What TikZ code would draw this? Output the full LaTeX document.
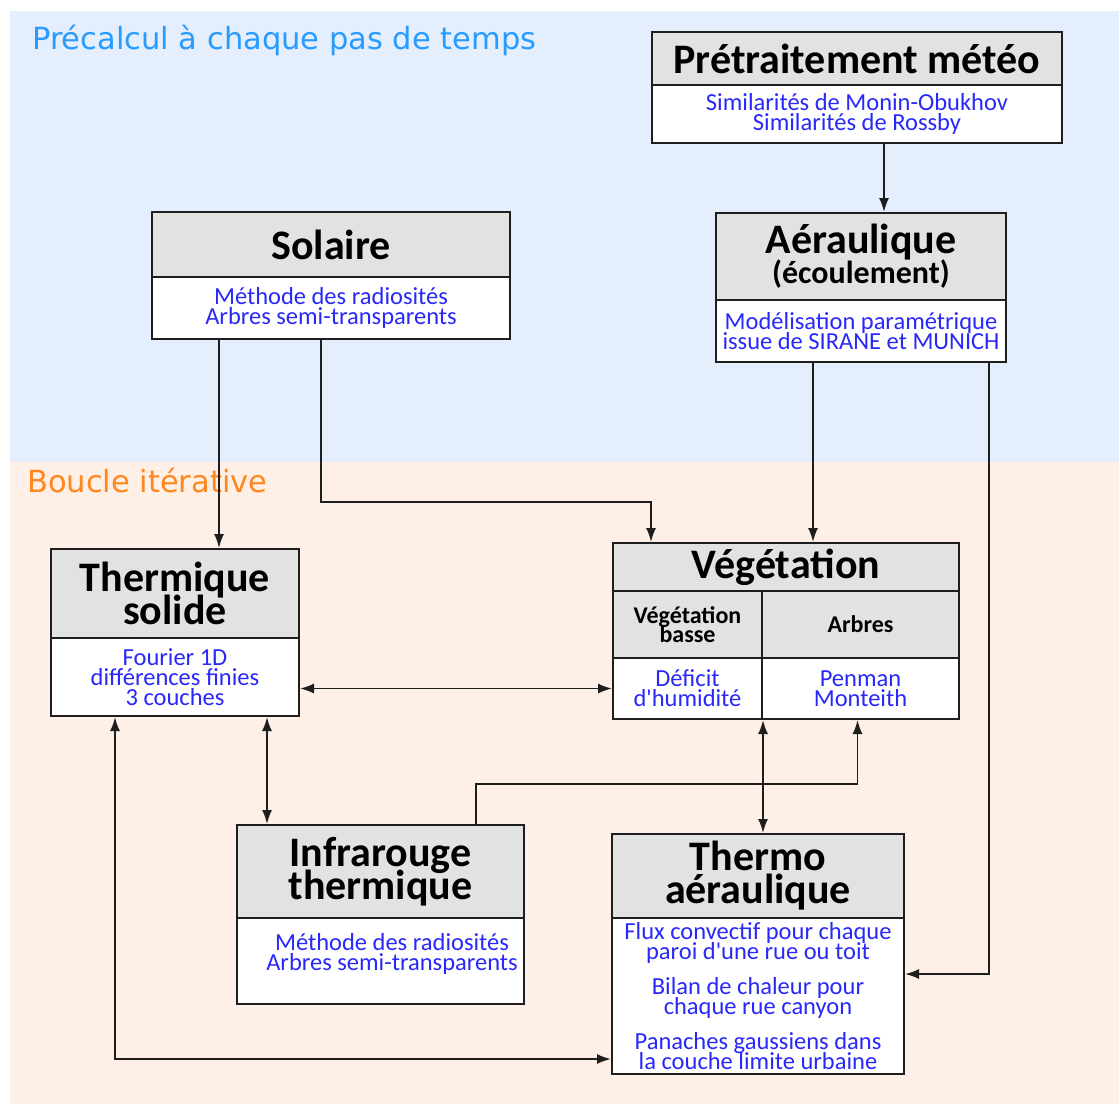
\documentclass[tikz,border=0pt]{standalone}
\usepackage{fontspec}
\usetikzlibrary{arrows.meta,calc}
\newfontfamily\calf{Carlito}
\newfontfamily\dejaf{DejaVu Sans}
\definecolor{bgblue}{RGB}{229,238,253}
\definecolor{bgorange}{RGB}{254,240,230}
\definecolor{hdrgray}{RGB}{226,226,226}
\definecolor{txtblue}{RGB}{40,40,250}
\definecolor{lblblue}{RGB}{40,155,255}
\definecolor{lblorange}{RGB}{255,135,30}
\definecolor{edgec}{RGB}{30,30,30}
\newcommand\tightlines{\lineskiplimit=-100pt\lineskip=0pt\relax}
\begin{document}
\begin{tikzpicture}[x=1pt,y=-1pt,
 box/.style={draw=edgec,line width=2pt,inner sep=0pt,anchor=north west,align=center},
 hdr/.style={box,fill=hdrgray,font=\calf\bfseries\fontsize{42}{33}\selectfont\tightlines},
 subhdr/.style={box,fill=hdrgray,font=\calf\bfseries\fontsize{24}{19.5}\selectfont\tightlines},
 bdy/.style={box,fill=white,text=txtblue,font=\calf\fontsize{24.5}{20}\selectfont\tightlines},
 btxt/.style={inner sep=0pt,align=center,text=txtblue,font=\calf\fontsize{24.5}{20}\selectfont\tightlines},
 arr/.style={line width=1.8pt,draw=edgec,-{Latex[length=14pt,width=10pt]}},
 darr/.style={line width=1.8pt,draw=edgec,{Latex[length=14pt,width=10pt]}-{Latex[length=14pt,width=10pt]}},
 region/.style={anchor=base west,inner sep=0pt,font=\dejaf\fontsize{30.5}{30.5}\selectfont}
]
\useasboundingbox (0,0) rectangle (1119,1104);
\fill[bgblue] (10,11) rectangle (1119,462);
\fill[bgorange] (10,462) rectangle (1119,1104);

\node[region,text=lblblue] (lpre) at (32,49) {Précalcul à chaque pas de temps};
\node[region,text=lblorange] (lbou) at (27,492) {Boucle itérative};

% Pretraitement meteo
\node[hdr,minimum width=410pt,minimum height=53pt] (pmh) at (651,31) {Prétraitement météo};
\node[bdy,minimum width=410pt,minimum height=58pt] (pmb) at (651,84) {Similarités de Monin-Obukhov\\Similarités de Rossby};

% Solaire
\node[hdr,minimum width=358pt,minimum height=65pt] (solh) at (151,211) {Solaire};
\node[bdy,minimum width=358pt,minimum height=62pt] (solb) at (151,276) {Méthode des radiosités\\Arbres semi-transparents};

% Aeraulique
\node[hdr,minimum width=290pt,minimum height=87pt] (aerh) at (715,212) {Aéraulique\\[-3pt]\fontsize{32}{30}\selectfont (écoulement)};
\node[bdy,minimum width=290pt,minimum height=62pt] (aerb) at (715,299) {Modélisation paramétrique\\issue de SIRANE et MUNICH};

% Vegetation
\node[hdr,minimum width=346pt,minimum height=48pt] (vegh) at (612,542) {Végétation};
\node[subhdr,minimum width=149pt,minimum height=67pt] (vegsl) at (612,590) {Végétation\\basse};
\node[subhdr,minimum width=197pt,minimum height=67pt] (vegsr) at (761,590) {Arbres};
\node[bdy,minimum width=149pt,minimum height=61pt] (vegbl) at (612,657) {Déficit\\d'humidité};
\node[bdy,minimum width=197pt,minimum height=61pt] (vegbr) at (761,657) {Penman\\Monteith};

% Thermique solide
\node[hdr,minimum width=248pt,minimum height=89pt] (tsh) at (50,548) {Thermique\\solide};
\node[bdy,minimum width=248pt,minimum height=78pt] (tsb) at (50,637) {Fourier 1D\\différences finies\\3 couches};

% Infrarouge thermique
\node[hdr,minimum width=287pt,minimum height=93pt] (irh) at (236,824) {Infrarouge\\thermique};
\node[bdy,minimum width=287pt,minimum height=86pt] (irb) at (236,917) {};
\node[btxt] (irt) at (392,954) {Méthode des radiosités\\Arbres semi-transparents};

% Thermo aeraulique
\node[hdr,minimum width=292pt,minimum height=84pt] (tah) at (611,833) {Thermo\\aéraulique};
\node[bdy,minimum width=292pt,minimum height=156pt,font=\calf\fontsize{24.5}{19.5}\selectfont\tightlines] (tab) at (611,917) {Flux convectif pour chaque\\paroi d'une rue ou toit\\[16pt]Bilan de chaleur pour\\chaque rue canyon\\[16pt]Panaches gaussiens dans\\la couche limite urbaine};

% connectors
\draw[arr] ($(pmb.south west)+(233,0)$) -- ($(aerh.north west)+(169,0)$);
\draw[arr] ($(solb.south west)+(68,0)$) -- ($(tsh.north west)+(169,0)$);
\draw[arr] ($(solb.south west)+(170,0)$) |- ($(vegh.north west)+(39,-40)$) -- ($(vegh.north west)+(39,0)$);
\draw[arr] ($(aerb.south west)+(98,0)$) -- ($(vegh.north west)+(201,0)$);
\draw[arr] ($(aerb.south west)+(274,0)$) |- ($(tab.east)+(0,-22)$);
\draw[darr] (tsb.east |- vegbl.west) -- (vegbl.west);
\draw[darr] ($(tsb.south west)+(217,0)$) -- ($(irh.north west)+(31,0)$);
\draw[darr] ($(tsb.south west)+(65,0)$) |- ($(tab.west)+(0,63)$);
\draw[darr] (vegbl.south east) -- (vegbl.south east |- tah.north);
\draw[arr] ($(irh.north west)+(240,0)$) -- ++(0,-40) -| ($(vegbr.south)+(-3,0)$);
\end{tikzpicture}
\end{document}
